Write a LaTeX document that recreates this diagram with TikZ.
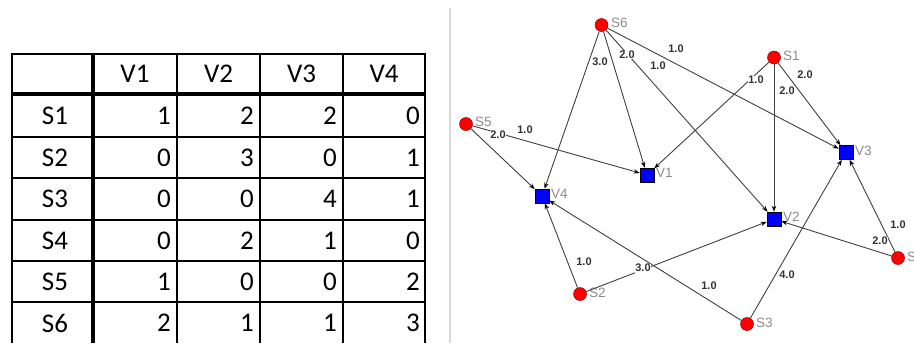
\documentclass[tikz,border=0pt]{standalone}
\usepackage{fontspec}
\setmainfont{Carlito}
\newfontfamily\labfont{Liberation Sans}
\usetikzlibrary{arrows.meta}
\definecolor{nodered}{HTML}{FF0000}
\definecolor{nodeblue}{HTML}{0000FF}
\definecolor{namegrey}{HTML}{8C8C8C}
\definecolor{edgegrey}{HTML}{404040}
\definecolor{wtgrey}{HTML}{333333}
\definecolor{divgrey}{HTML}{D8D8D8}
\begin{document}
\begin{tikzpicture}[x=1bp,y=-1bp,
  cell/.style={inner sep=0pt,font=\fontsize{27bp}{32bp}\selectfont},
  thinrule/.style={line width=2.2bp,black},
  thickrule/.style={line width=4bp,black},
  snode/.style={circle,fill=nodered,draw=red!60!black,line width=0.5bp,minimum size=13bp,inner sep=0pt},
  vnode/.style={rectangle,fill=nodeblue,draw=black,line width=0.6bp,minimum size=14bp,inner sep=0pt},
  nm/.style={anchor=west,inner sep=0pt,text=namegrey,font=\labfont\fontsize{13.5bp}{15bp}\selectfont},
  wt/.style={inner sep=0.6bp,fill=white,text=wtgrey,font=\labfont\bfseries\fontsize{11bp}{13bp}\selectfont},
  edge/.style={draw=edgegrey,line width=0.9bp,-{Stealth[length=6bp,width=4.5bp,black]}}
]
\useasboundingbox (0,0) rectangle (914,343);
\fill[white] (0,0) rectangle (914,343);
% divider
\draw[divgrey,line width=1.2bp] (450,8) -- (450,343);
% table rules
\draw[thinrule] (11,54) -- (425,54);
\foreach \yy in {137,178,220,261,302} \draw[thinrule] (11,\yy) -- (425,\yy);
\draw[thickrule] (11,94) -- (425,94);
\draw[thinrule] (12,53) -- (12,343);
\draw[thickrule] (93,53) -- (93,343);
\foreach \xx in {177,260,343} \draw[thinrule] (\xx,53) -- (\xx,343);
\draw[thinrule] (425,53) -- (425,343);
% header
\node[cell] (h1) at (135,74) {V1};
\node[cell] (h2) at (218.5,74) {V2};
\node[cell] (h3) at (301.5,74) {V3};
\node[cell] (h4) at (384,74) {V4};
% row labels and values
\foreach \r/\yy/\a/\b/\c/\d in {1/116/1/2/2/0, 2/158/0/3/0/1, 3/199/0/0/4/1, 4/241/0/2/1/0, 5/282/1/0/0/2, 6/323/2/1/1/3}{
  \node[cell] (r\r) at (55,\yy) {S\r};
  \node[cell,anchor=east] (c\r a) at (171,\yy) {\a};
  \node[cell,anchor=east] (c\r b) at (254,\yy) {\b};
  \node[cell,anchor=east] (c\r c) at (337,\yy) {\c};
  \node[cell,anchor=east] (c\r d) at (420,\yy) {\d};
}
% graph nodes
\node[snode] (S6) at (601.5,25) {};
\node[snode] (S5) at (466,124) {};
\node[snode] (S1) at (774,57.5) {};
\node[snode] (S2) at (580,294) {};
\node[snode] (S3) at (747,324) {};
\node[snode] (S4) at (898,258) {};
\node[vnode] (V1) at (647,175) {};
\node[vnode] (V2) at (774,219) {};
\node[vnode] (V3) at (846,152.5) {};
\node[vnode] (V4) at (542,196) {};
% names
\node[nm] (nS6) at (611,23) {S6};
\node[nm] (nS5) at (475,122) {S5};
\node[nm] (nS1) at (783,56) {S1};
\node[nm] (nS2) at (589,293) {S2};
\node[nm] (nS3) at (756,323) {S3};
\node[nm] (nS4) at (907,257) {S4};
\node[nm] (nV1) at (656,173) {V1};
\node[nm] (nV2) at (783,217) {V2};
\node[nm] (nV3) at (855,151) {V3};
\node[nm] (nV4) at (551,194) {V4};
% edges
\draw[edge] (S1) -- (V1);
\draw[edge] (S1) -- (V2);
\draw[edge] (S1) -- (V3);
\draw[edge] (S2) -- (V2);
\draw[edge] (S2) -- (V4);
\draw[edge] (S3) -- (V3);
\draw[edge] (S3) -- (V4);
\draw[edge] (S4) -- (V2);
\draw[edge] (S4) -- (V3);
\draw[edge] (S5) -- (V1);
\draw[edge] (S5) -- (V4);
\draw[edge] (S6) -- (V1);
\draw[edge] (S6) -- (V2);
\draw[edge] (S6) -- (V3);
\draw[edge] (S6) -- (V4);
% weights
\node[wt] (w64) at (600,62) {3.0};
\node[wt] (w61) at (627,55) {2.0};
\node[wt] (w62) at (658,66) {1.0};
\node[wt] (w63) at (676,49) {1.0};
\node[wt] (w11) at (756,80) {1.0};
\node[wt] (w12) at (787,91) {2.0};
\node[wt] (w13) at (805,75) {2.0};
\node[wt] (w54) at (498,135) {2.0};
\node[wt] (w51) at (525,130) {1.0};
\node[wt] (w24) at (584,262) {1.0};
\node[wt] (w22) at (643,268) {3.0};
\node[wt] (w34) at (709,286) {1.0};
\node[wt] (w33) at (787,275) {4.0};
\node[wt] (w42) at (880,241) {2.0};
\node[wt] (w43) at (898,225) {1.0};
\end{tikzpicture}
\end{document}
